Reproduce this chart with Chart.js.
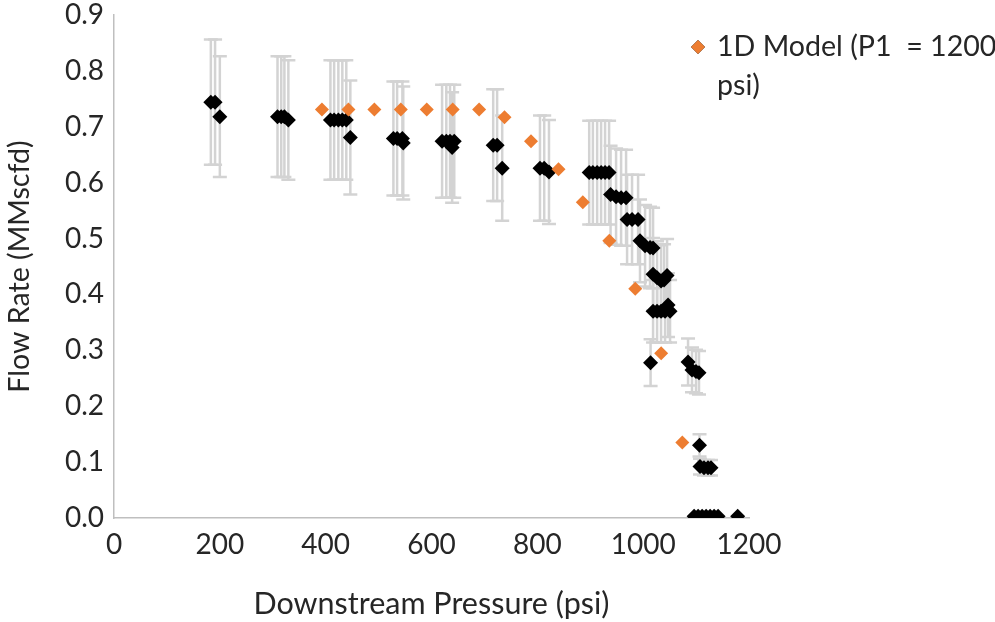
<!DOCTYPE html>
<html>
<head>
<meta charset="utf-8">
<script src="https://cdn.jsdelivr.net/npm/chart.js@4.4.0/dist/chart.umd.min.js"></script>
<style>
html,body{margin:0;padding:0;background:#ffffff;}
#wrap{position:relative;width:995px;height:622px;}
</style>
</head>
<body>
<div id="wrap"><canvas id="c" width="995" height="622"></canvas></div>
<script>
// ---- data ----
const modelLabel = '1D Model (P1  = 1200 psi)';
const modelX = [393, 443, 492, 542, 591, 640, 690, 738, 788, 840, 886, 936, 985, 1034, 1074];
const modelY = [0.731, 0.731, 0.731, 0.731, 0.731, 0.731, 0.731, 0.717, 0.674, 0.624, 0.565, 0.496, 0.410, 0.295, 0.135];

const expX = [183, 191, 200,
  309, 316, 322, 329.5,
  409, 416, 424, 431.5, 439, 446.6,
  528, 535, 545, 546.6,
  620, 628, 635, 643, 639,
  716.6, 724, 733.6,
  805, 813, 822,
  898, 905, 913, 920.5, 928, 935.6,
  938.4, 948.8, 958.3, 967.7,
  969.6, 979, 990.4,
  994, 1003.6, 1013, 1018.7,
  1018.7, 1026.3, 1033.8, 1039.5, 1045.2,
  1018.7, 1026.3, 1033.8, 1041.4, 1050.8, 1047,
  1014,
  1084.8, 1092.3, 1099.9, 1105.5,
  1106.5, 1107.4, 1115, 1122.5, 1128.2,
  1096.3, 1103.9, 1111.4, 1119, 1126.5, 1134.1, 1141.6, 1178.6];
const expY = [0.744, 0.744, 0.718,
  0.718, 0.718, 0.718, 0.712,
  0.712, 0.712, 0.712, 0.712, 0.712, 0.681,
  0.679, 0.679, 0.679, 0.671,
  0.674, 0.674, 0.674, 0.674, 0.663,
  0.667, 0.667, 0.626,
  0.626, 0.626, 0.619,
  0.618, 0.618, 0.618, 0.618, 0.618, 0.618,
  0.579, 0.575, 0.573, 0.573,
  0.534, 0.534, 0.534,
  0.496, 0.487, 0.484, 0.483,
  0.436, 0.430, 0.424, 0.426, 0.434,
  0.370, 0.370, 0.370, 0.370, 0.370, 0.381,
  0.278,
  0.279, 0.265, 0.262, 0.260,
  0.130, 0.092, 0.090, 0.090, 0.090,
  0.003, 0.003, 0.003, 0.003, 0.003, 0.003, 0.003, 0.003];
const expErr = [0.112, 0.112, 0.108,
  0.108, 0.108, 0.108, 0.107,
  0.107, 0.107, 0.107, 0.107, 0.107, 0.102,
  0.102, 0.102, 0.102, 0.101,
  0.101, 0.101, 0.101, 0.101, 0.099,
  0.100, 0.100, 0.094,
  0.094, 0.094, 0.093,
  0.093, 0.093, 0.093, 0.093, 0.093, 0.093,
  0.087, 0.086, 0.086, 0.086,
  0.080, 0.080, 0.080,
  0.074, 0.073, 0.073, 0.072,
  0.065, 0.065, 0.064, 0.064, 0.065,
  0.056, 0.056, 0.056, 0.056, 0.056, 0.057,
  0.042,
  0.042, 0.040, 0.039, 0.039,
  0.020, 0.014, 0.014, 0.014, 0.014,
  0, 0, 0, 0, 0, 0, 0, 0];

const xTickLabels = ['0', '200', '400', '600', '800', '1000', '1200'];
const yTickLabels = ['0.0', '0.1', '0.2', '0.3', '0.4', '0.5', '0.6', '0.7', '0.8', '0.9'];
const xTitle = 'Downstream Pressure (psi)';
const yTitle = 'Flow Rate (MMscfd)';
const legendLine1 = '1D Model (P1  = 1200';
const legendLine2 = 'psi)';

// ---- styling ----
const FONT = 'Lato';
const TXT = '#262626';
const ORANGE = '#ED7D31';

const errorBars = {
  id: 'errorBars',
  beforeDatasetsDraw(chart) {
    const ctx = chart.ctx, xs = chart.scales.x, ys = chart.scales.y;
    ctx.save();
    ctx.strokeStyle = '#d3d3d3';
    ctx.lineWidth = 2.5;
    for (let i = 0; i < expX.length; i++) {
      const e = expErr[i];
      if (!e) continue;
      const px = xs.getPixelForValue(expX[i]);
      const top = ys.getPixelForValue(expY[i] + e);
      const bot = ys.getPixelForValue(expY[i] - e);
      ctx.beginPath();
      ctx.moveTo(px, top); ctx.lineTo(px, bot);
      ctx.moveTo(px - 7, top); ctx.lineTo(px + 7, top);
      ctx.moveTo(px - 7, bot); ctx.lineTo(px + 7, bot);
      ctx.stroke();
    }
    ctx.restore();
  }
};

const legendPlugin = {
  id: 'wrapLegend',
  afterDraw(chart) {
    const ctx = chart.ctx;
    const ca = chart.chartArea;
    const sx = ca.right - 51, sy = ca.top + 32;
    ctx.save();
    Chart.helpers.drawPoint(ctx, {pointStyle: 'rectRot', radius: 7, borderWidth: 0, rotation: 0}, sx, sy);
    ctx.fillStyle = ORANGE;
    ctx.fill();
    ctx.fillStyle = TXT;
    ctx.font = '28.6px ' + FONT;
    ctx.textBaseline = 'middle';
    ctx.textAlign = 'left';
    ctx.fillText(legendLine1, sx + 19, sy);
    ctx.fillText(legendLine2, sx + 19, sy + 39);
    ctx.restore();
  }
};

new Chart(document.getElementById('c'), {
  type: 'scatter',
  data: {
    datasets: [
      {
        label: modelLabel,
        data: modelX.map((x, i) => ({x: x, y: modelY[i]})),
        backgroundColor: ORANGE,
        borderColor: ORANGE,
        borderWidth: 0,
        pointStyle: 'rectRot',
        pointRadius: 7,
        order: 0
      },
      {
        label: 'Measured',
        data: expX.map((x, i) => ({x: x, y: expY[i]})),
        backgroundColor: '#000000',
        borderColor: '#000000',
        borderWidth: 0,
        pointStyle: 'rectRot',
        pointRadius: 7.5,
        order: 1
      }
    ]
  },
  options: {
    responsive: false,
    animation: false,
    devicePixelRatio: 1,
    layout: {padding: {left: 0, right: 246, top: 15, bottom: 0}},
    plugins: {legend: {display: false}, tooltip: {enabled: false}},
    scales: {
      x: {
        type: 'linear', min: 0, max: 1200,
        afterFit(s) { s.height = 104; s.paddingLeft = 0; s.paddingRight = 0; },
        ticks: {stepSize: 200, padding: 10, color: TXT, font: {family: FONT, size: 28},
          callback: (v, i) => xTickLabels[i] !== undefined ? xTickLabels[i] : String(v)},
        grid: {color: 'rgba(0,0,0,0)', drawTicks: false},
        border: {display: true, color: '#bfbfbf', width: 1.5},
        title: {display: true, text: xTitle, color: TXT, font: {family: FONT, size: 30.5}, padding: {top: 0, bottom: 0}}
      },
      y: {
        type: 'linear', min: 0, max: 0.9,
        afterFit(s) { s.width = 114; s.paddingTop = 0; s.paddingBottom = 0; },
        ticks: {stepSize: 0.1, padding: 10, color: TXT, font: {family: FONT, size: 28},
          callback: (v, i) => yTickLabels[i] !== undefined ? yTickLabels[i] : v.toFixed(1)},
        grid: {color: 'rgba(0,0,0,0)', drawTicks: false},
        border: {display: true, color: '#bfbfbf', width: 1.5},
        title: {display: true, text: yTitle, color: TXT, font: {family: FONT, size: 28.6}, padding: {top: 3, bottom: 0}}
      }
    }
  },
  plugins: [errorBars, legendPlugin]
});
</script>
</body>
</html>
